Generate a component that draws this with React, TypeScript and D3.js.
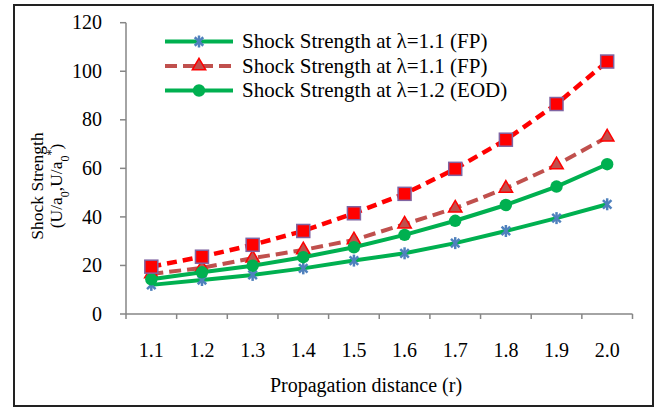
import React from "react";
import * as d3 from "d3";

const categories = ["1.1", "1.2", "1.3", "1.4", "1.5", "1.6", "1.7", "1.8", "1.9", "2.0"];
const yTicks = [0, 20, 40, 60, 80, 100, 120];
const seriesFP1 = [12, 14, 16.1, 18.8, 22, 25, 29.2, 34.2, 39.5, 45.2];
const seriesFP2 = [16.5, 19, 23, 26.4, 30.5, 37, 43.6, 51.8, 61.4, 72.9];
const seriesEOD = [14.3, 17.2, 19.9, 23.4, 27.5, 32.6, 38.4, 44.9, 52.5, 61.7];
const seriesSquare = [19.5, 23.6, 28.5, 34.2, 41.5, 49.5, 59.8, 71.8, 86.5, 104];
const legendLabels = [
  "Shock Strength at λ=1.1 (FP)",
  "Shock Strength at λ=1.1 (FP)",
  "Shock Strength at λ=1.2 (EOD)",
];

const W = 655;
const H = 408;
const left = 126, right = 632.5, top = 22.7, bottom = 314;
const FONT = "Liberation Serif, Tinos, Times New Roman, Times, DejaVu Serif, serif";
const ts = { fontFamily: FONT };

type Marker = "star" | "tri" | "circle" | "square";

function MarkerShape({ kind, x, y }: { kind: Marker; x: number; y: number }) {
  if (kind === "star") {
    const r = 6;
    const c = r * Math.SQRT1_2;
    return (
      <g stroke="#4f81bd" strokeWidth={2.5}>
        <line x1={x - c} y1={y - c} x2={x + c} y2={y + c} />
        <line x1={x - c} y1={y + c} x2={x + c} y2={y - c} />
        <line x1={x} y1={y - r} x2={x} y2={y + r} />
      </g>
    );
  }
  if (kind === "tri") {
    const p = d3.symbol(d3.symbolTriangle, 78)();
    return <path d={p || ""} transform={`translate(${x},${y})`} fill="#c0504d" stroke="#ff0000" strokeWidth={1.5} />;
  }
  if (kind === "circle") {
    return <circle cx={x} cy={y} r={6.2} fill="#00b050" />;
  }
  return <rect x={x - 6.5} y={y - 6.5} width={13} height={13} fill="#ff0000" stroke="#8064a2" strokeWidth={1.5} />;
}

export default function App() {
  const x = d3.scaleBand<string>().domain(categories).range([left, right]);
  const y = d3.scaleLinear().domain([0, 120]).range([bottom, top]);
  const cx = (c: string) => (x(c) as number) + x.bandwidth() / 2;
  const line = d3
    .line<number>()
    .x((_, i) => cx(categories[i]))
    .y((d) => y(d));

  const series: { data: number[]; color: string; width: number; dash?: string; marker: Marker }[] = [
    { data: seriesFP1, color: "#00b050", width: 4, marker: "star" },
    { data: seriesFP2, color: "#c0504d", width: 4, dash: "12 6", marker: "tri" },
    { data: seriesEOD, color: "#00b050", width: 4, marker: "circle" },
    { data: seriesSquare, color: "#ff0000", width: 4.5, dash: "10 6", marker: "square" },
  ];

  const boundaries = d3.range(categories.length + 1).map((i) => left + i * x.step());

  return (
    <svg width={W} height={H} style={{ position: "absolute", left: 0, top: 0, fontFamily: FONT }}>
      <rect x={0} y={0} width={W} height={H} fill="#fff" />
      <rect x={14} y={5} width={639} height={401} fill="none" stroke="#222" strokeWidth={2} />
      <line x1={left} y1={top} x2={left} y2={bottom} stroke="#868686" strokeWidth={1.5} />
      <line x1={left} y1={bottom} x2={right} y2={bottom} stroke="#868686" strokeWidth={1.5} />
      {yTicks.map((t) => (
        <g key={t}>
          <line x1={left - 6} x2={left} y1={y(t)} y2={y(t)} stroke="#868686" strokeWidth={1.5} />
          <text x={102} y={y(t)} dy="0.33em" textAnchor="end" fontSize={20} fill="#000" style={ts}>
            {t}
          </text>
        </g>
      ))}
      {boundaries.map((b, i) => (
        <line key={i} x1={b} x2={b} y1={bottom} y2={bottom + 5} stroke="#868686" strokeWidth={1.5} />
      ))}
      {categories.map((c) => (
        <text key={c} x={cx(c)} y={350} dy="0.33em" textAnchor="middle" fontSize={20} fill="#000" style={ts}>
          {c}
        </text>
      ))}
      <text x={366} y={385} dy="0.33em" textAnchor="middle" fontSize={20} fill="#000" style={ts}>
        Propagation distance (r)
      </text>
      <g transform="translate(51,186) rotate(-90)">
        <text x={0} y={-8} textAnchor="middle" fontSize={17.5} fill="#000" style={ts}>
          Shock Strength
        </text>
        <text x={0} y={11} textAnchor="middle" fontSize={17.5} fill="#000" style={ts}>
          (U/a<tspan baselineShift="sub" fontSize={12}>0</tspan>
          <tspan>,U/a</tspan>
          <tspan baselineShift="sub" fontSize={12}>0</tspan>
          <tspan baselineShift="super" fontSize={12}>*</tspan>
          <tspan>)</tspan>
        </text>
      </g>
      {series.map((s, k) => (
        <g key={k}>
          <path d={line(s.data) || ""} fill="none" stroke={s.color} strokeWidth={s.width} strokeDasharray={s.dash} />
          {s.data.map((v, i) => (
            <MarkerShape key={i} kind={s.marker} x={cx(categories[i])} y={y(v)} />
          ))}
        </g>
      ))}
      {legendLabels.map((lab, i) => {
        const ly = 41.5 + i * 24.5;
        const s = series[i];
        return (
          <g key={i}>
            <line x1={165} x2={233} y1={ly} y2={ly} stroke={s.color} strokeWidth={s.width} strokeDasharray={s.dash} />
            <MarkerShape kind={s.marker} x={199} y={ly} />
            <text x={242} y={ly} dy="0.33em" fontSize={21} fill="#000" style={ts}>
              {lab}
            </text>
          </g>
        );
      })}
    </svg>
  );
}
